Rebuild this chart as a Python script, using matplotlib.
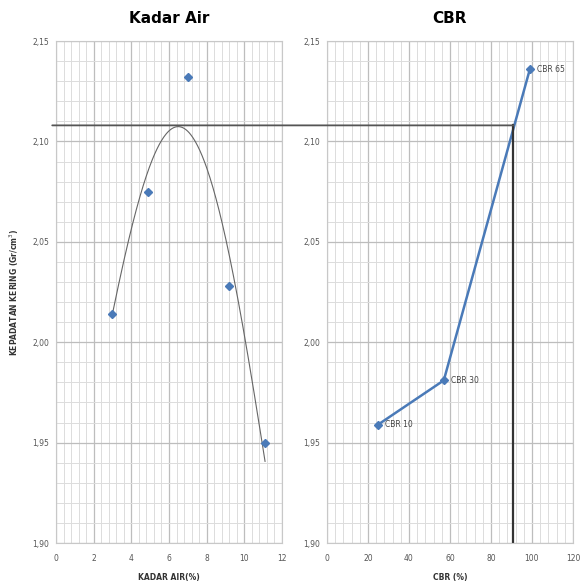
import numpy as np
import matplotlib.pyplot as plt
from matplotlib.patches import ConnectionPatch
from matplotlib.ticker import MultipleLocator, FuncFormatter

# data
kadar_air = [3.0, 4.9, 7.0, 9.2, 11.1]
kepadatan = [2.014, 2.075, 2.132, 2.028, 1.950]

# points along the trend curve
trend_x = [3.0, 3.5, 4.1, 4.6, 5.25, 5.75, 6.5, 7.25, 7.75, 8.3, 8.9, 9.5, 10.0, 10.7, 11.1]
trend_y = [2.013, 2.038, 2.061, 2.077, 2.092, 2.102, 2.109, 2.102, 2.092, 2.077, 2.061,
           2.028, 2.001, 1.965, 1.941]

cbr_vals = [25, 57, 99]
cbr_density = [1.959, 1.981, 2.136]
cbr_names = ["CBR 10", "CBR 30", "CBR 65"]

max_density = 2.108
cbr_design = 91

blue = "#4a7ab8"
comma = FuncFormatter(lambda v, p: ("%.2f" % v).replace(".", ","))

fig = plt.figure(figsize=(5.87, 5.83), dpi=100)
ax1 = fig.add_axes([0.0954, 0.0686, 0.385, 0.861])
ax2 = fig.add_axes([0.557, 0.0686, 0.419, 0.861])

def style(ax, xmaj, xmin):
    ax.set_ylim(1.90, 2.15)
    ax.yaxis.set_major_locator(MultipleLocator(0.05))
    ax.yaxis.set_minor_locator(MultipleLocator(0.01))
    ax.xaxis.set_major_locator(MultipleLocator(xmaj))
    ax.xaxis.set_minor_locator(MultipleLocator(xmin))
    ax.yaxis.set_major_formatter(comma)
    ax.grid(which="major", color="#bdbdbd", lw=0.9)
    ax.grid(which="minor", color="#dcdcdc", lw=0.7)
    ax.set_axisbelow(True)
    for s in ax.spines.values():
        s.set_color("#c8c8c8")
        s.set_linewidth(0.8)
    ax.tick_params(which="both", length=0, labelsize=5.5, labelcolor="#555555", pad=5)
    ax.tick_params(axis="x", pad=8)

# Kadar Air - smooth trend through the read curve points
style(ax1, 2, 0.4)
ax1.set_xlim(0, 12)
coef = np.polyfit(trend_x, trend_y, 4)
xs = np.linspace(trend_x[0], trend_x[-1], 200)
ax1.plot(xs, np.polyval(coef, xs), color="#666666", lw=0.8)
ax1.plot(kadar_air, kepadatan, "D", color=blue, ms=4, mec=blue)
ax1.set_title("Kadar Air", fontsize=11, fontweight="bold", pad=13)
ax1.set_xlabel("KADAR AIR(%)", fontsize=5.5, fontweight="bold", color="#333333", labelpad=7)
ax1.set_ylabel("KEPADATAN KERING (Gr/cm$^3$)", fontsize=5.5, fontweight="bold", color="#333333", labelpad=8)

# CBR
style(ax2, 20, 4)
ax2.set_xlim(0, 120)
ax2.xaxis.set_major_formatter(FuncFormatter(lambda v, p: "%d" % v))
ax2.plot(cbr_vals, cbr_density, "-D", color=blue, lw=1.8, ms=4)
for x, y, t in zip(cbr_vals, cbr_density, cbr_names):
    ax2.annotate(t, (x, y), xytext=(5, -2), textcoords="offset points",
                 fontsize=5.5, color="#444444")
ax2.set_title("CBR", fontsize=11, fontweight="bold", pad=13)
ax2.set_xlabel("CBR (%)", fontsize=5.5, fontweight="bold", color="#333333", labelpad=7)

# max density / design CBR lines
con = ConnectionPatch(xyA=(-0.2, max_density), coordsA=ax1.transData,
                      xyB=(cbr_design, max_density), coordsB=ax2.transData,
                      color="#555555", lw=1.3)
fig.add_artist(con)
ax2.plot([cbr_design, cbr_design], [1.90, max_density], color="#333333", lw=1.6)

fig.savefig("out.png")
